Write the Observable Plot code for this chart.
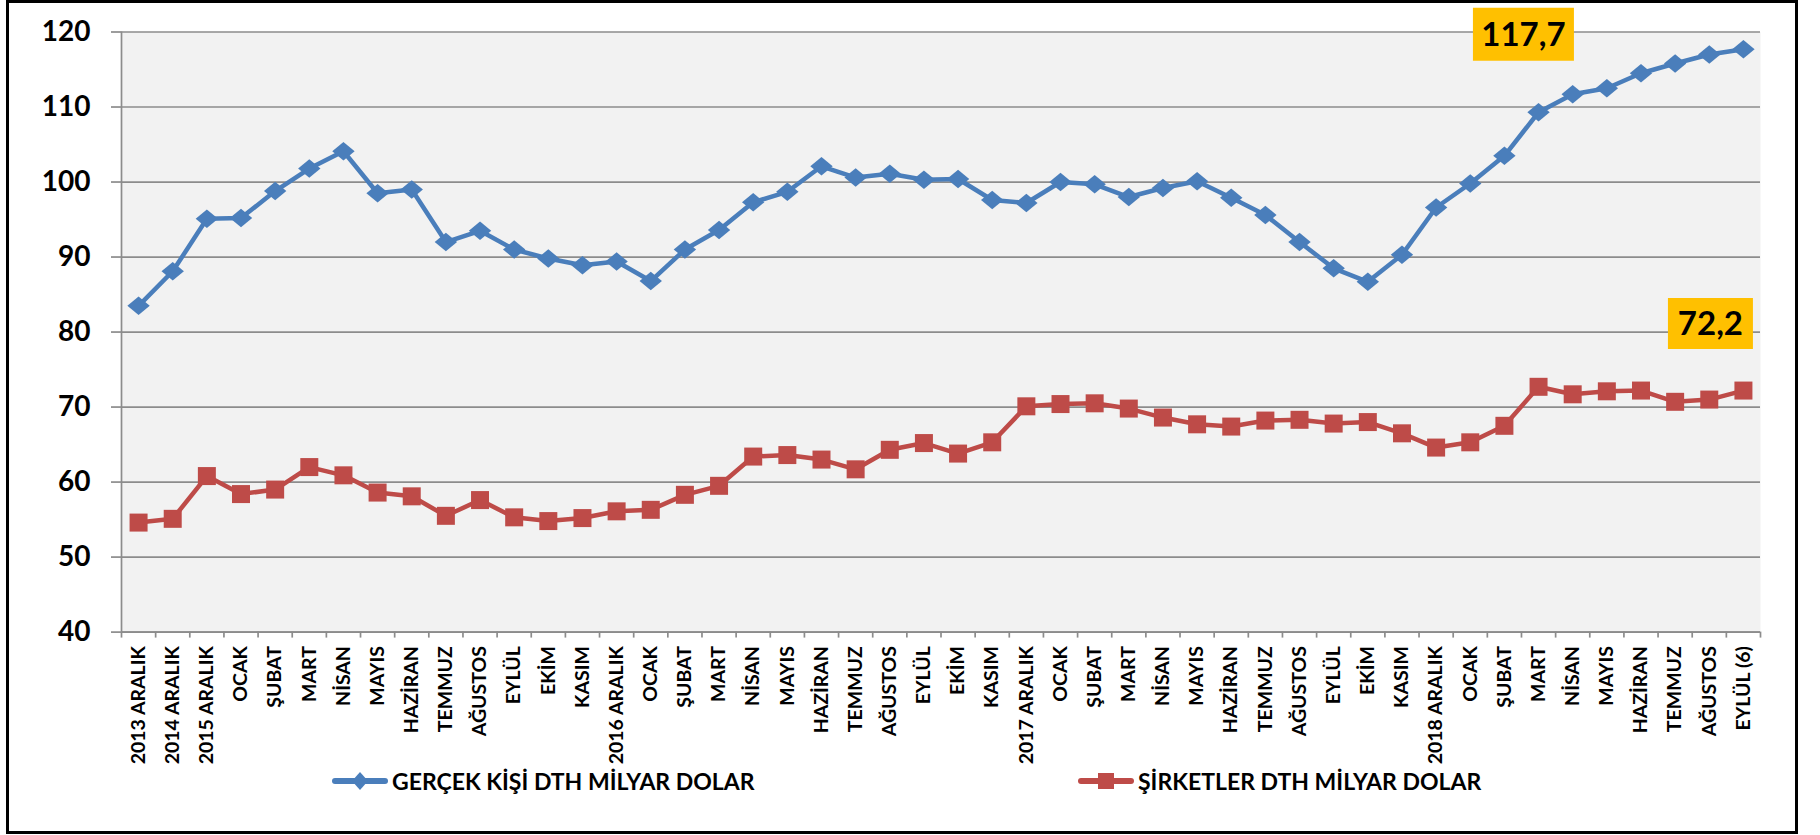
<!DOCTYPE html>
<html>
<head>
<meta charset="utf-8">
<script src="https://cdn.jsdelivr.net/npm/d3@7"></script>
<script src="https://cdn.jsdelivr.net/npm/@observablehq/plot@0.6"></script>
<style>
html, body { margin: 0; padding: 0; background: #fff; }
#wrap { position: relative; width: 1820px; height: 835px; overflow: hidden; font-family: Lato, sans-serif; }
#frame { position: absolute; left: 6px; top: 0px; width: 1792px; height: 834px; border: 3px solid #000; box-sizing: border-box; }
#chart { position: absolute; left: 0; top: 0; }
.leg { position: absolute; top: 767px; display: flex; align-items: center; font-weight: 700; font-size: 23px; color: #000; white-space: nowrap; }
.leg svg { margin-right: 4px; }
</style>
</head>
<body>
<div id="wrap">
  <div id="frame"></div>
  <div id="chart"></div>
  <div class="leg" id="leg1" style="left:332px"></div>
  <div class="leg" id="leg2" style="left:1078px"></div>
</div>
<script>
const categories = [
  "2013 ARALIK", "2014 ARALIK", "2015 ARALIK", "OCAK", "ŞUBAT", "MART", "NİSAN", "MAYIS", "HAZİRAN", "TEMMUZ", "AĞUSTOS", "EYLÜL", "EKİM", "KASIM",
  "2016 ARALIK", "OCAK", "ŞUBAT", "MART", "NİSAN", "MAYIS", "HAZİRAN", "TEMMUZ", "AĞUSTOS", "EYLÜL", "EKİM", "KASIM",
  "2017 ARALIK", "OCAK", "ŞUBAT", "MART", "NİSAN", "MAYIS", "HAZİRAN", "TEMMUZ", "AĞUSTOS", "EYLÜL", "EKİM", "KASIM",
  "2018 ARALIK", "OCAK", "ŞUBAT", "MART", "NİSAN", "MAYIS", "HAZİRAN", "TEMMUZ", "AĞUSTOS", "EYLÜL (6)"
];
const gercekKisi = [
  83.5, 88.1, 95.1, 95.2, 98.8, 101.8, 104.1, 98.5, 99.0, 92.0, 93.5, 91.0, 89.8, 88.9,
  89.4, 86.8, 91.0, 93.6, 97.3, 98.7, 102.1, 100.6, 101.1, 100.3, 100.4, 97.6,
  97.2, 100.0, 99.7, 98.0, 99.2, 100.1, 97.9, 95.6, 92.0, 88.5, 86.7, 90.3,
  96.6, 99.8, 103.5, 109.3, 111.7, 112.5, 114.5, 115.8, 117.0, 117.7
];
const sirketler = [
  54.6, 55.1, 60.8, 58.4, 59.0, 62.0, 60.9, 58.6, 58.1, 55.5, 57.6, 55.3, 54.8, 55.2,
  56.1, 56.3, 58.3, 59.5, 63.4, 63.6, 63.0, 61.7, 64.3, 65.2, 63.8, 65.3,
  70.1, 70.4, 70.5, 69.8, 68.6, 67.7, 67.4, 68.2, 68.3, 67.8, 68.0, 66.5,
  64.6, 65.3, 67.5, 72.7, 71.7, 72.1, 72.2, 70.7, 71.0, 72.2
];
const seriesNames = ["GERÇEK KİŞİ DTH MİLYAR DOLAR", "ŞİRKETLER DTH MİLYAR DOLAR"];
const seriesColors = ["#4A7EBB", "#BE4B48"];
const yTicks = [40, 50, 60, 70, 80, 90, 100, 110, 120];

const n = categories.length;
const rows = [];
[gercekKisi, sirketler].forEach((vals, s) => {
  vals.forEach((v, i) => rows.push({ series: seriesNames[s], pos: i + 0.5, value: v, last: i === n - 1 }));
});
const blueRows = rows.filter(d => d.series === seriesNames[0]);
const redRows = rows.filter(d => d.series === seriesNames[1]);

// Excel-like markers: a slightly wide diamond and a square
const diamond = { draw(ctx, size) { const r = Math.sqrt(size / Math.PI); const w = r * 1.12, h = r * 0.92; ctx.moveTo(0, -h); ctx.lineTo(w, 0); ctx.lineTo(0, h); ctx.lineTo(-w, 0); ctx.closePath(); } };
const square = { draw(ctx, size) { const r = Math.sqrt(size / Math.PI); ctx.rect(-r, -r, 2 * r, 2 * r); } };
const box = (w, h) => ({ draw(ctx) { ctx.rect(-w / 2, -h / 2, w, h); } });
const fmt = v => d3.format(".1f")(v).replace(".", ",");

const gridColor = "#8C8C8C";
const svgH = 780, plotTop = 31.5, plotBottom = 631.6;

const chart = Plot.plot({
  width: 1820,
  height: svgH,
  marginLeft: 121,
  marginRight: 60,
  marginTop: plotTop,
  marginBottom: svgH - plotBottom,
  x: { domain: [0, n], axis: null },
  y: { domain: [40, 120], axis: null },
  color: { domain: seriesNames, range: seriesColors },
  style: { fontFamily: "Lato, sans-serif", background: "transparent", overflow: "visible" },
  marks: [
    Plot.frame({ fill: "#F2F2F2", stroke: null }),
    Plot.gridY(yTicks, { stroke: gridColor, strokeOpacity: 1, strokeWidth: 1.7 }),
    Plot.axisY(yTicks, { tickSize: 10, tickPadding: 21, stroke: gridColor, strokeWidth: 1.7, fill: "#000", fontSize: 28, fontWeight: "bold", label: null }),
    Plot.ruleX([0], { stroke: gridColor, strokeWidth: 1.7 }),
    Plot.ruleY([40], { stroke: gridColor, strokeWidth: 1.7 }),
    Plot.axisX(d3.range(n + 1), { tickSize: 6, tickFormat: () => "", stroke: gridColor, strokeWidth: 1.7, label: null }),
    Plot.axisX(d3.range(n).map(i => i + 0.5), { tickSize: 0, tickPadding: 14, tickRotate: -90, tickFormat: d => categories[Math.floor(d)], fill: "#000", fontSize: 19.5, fontWeight: "bold", label: null }),
    Plot.line(rows, { x: "pos", y: "value", z: "series", stroke: "series", strokeWidth: 4.5, strokeLinejoin: "round", strokeLinecap: "round" }),
    Plot.dot(blueRows, { x: "pos", y: "value", symbol: diamond, r: 10, fill: seriesColors[0], stroke: null }),
    Plot.dot(redRows, { x: "pos", y: "value", symbol: square, r: 9, fill: seriesColors[1], stroke: null }),
    Plot.dot(blueRows.filter(d => d.last), { x: "pos", y: "value", symbol: box(101, 53), r: 1, fill: "#FFC000", stroke: null, dx: -220, dy: -15 }),
    Plot.text(blueRows.filter(d => d.last), { x: "pos", y: "value", text: d => fmt(d.value), dx: -220, dy: -14, fontSize: 33, fontWeight: "bold", fill: "#000", textAnchor: "middle", lineAnchor: "middle" }),
    Plot.dot(redRows.filter(d => d.last), { x: "pos", y: "value", symbol: box(85, 51), r: 1, fill: "#FFC000", stroke: null, dx: -33, dy: -67 }),
    Plot.text(redRows.filter(d => d.last), { x: "pos", y: "value", text: d => fmt(d.value), dx: -33, dy: -66, fontSize: 33, fontWeight: "bold", fill: "#000", textAnchor: "middle", lineAnchor: "middle" })
  ]
});
document.getElementById("chart").appendChild(chart);

// Legend
function swatch(color, shape) {
  const s = d3.create("svg").attr("width", 56).attr("height", 26);
  s.append("line").attr("x1", 3).attr("x2", 53).attr("y1", 13).attr("y2", 13).attr("stroke", color).attr("stroke-width", 6).attr("stroke-linecap", "round");
  if (shape === "diamond") s.append("path").attr("d", "M28,4L36,13L28,22L20,13Z").attr("fill", color);
  else s.append("rect").attr("x", 20).attr("y", 5).attr("width", 16).attr("height", 16).attr("fill", color);
  return s.node();
}
[["leg1", 0, "diamond"], ["leg2", 1, "square"]].forEach(([id, s, shape]) => {
  const el = document.getElementById(id);
  el.appendChild(swatch(seriesColors[s], shape));
  const t = document.createElement("span");
  t.textContent = seriesNames[s];
  el.appendChild(t);
});
</script>
</body>
</html>
